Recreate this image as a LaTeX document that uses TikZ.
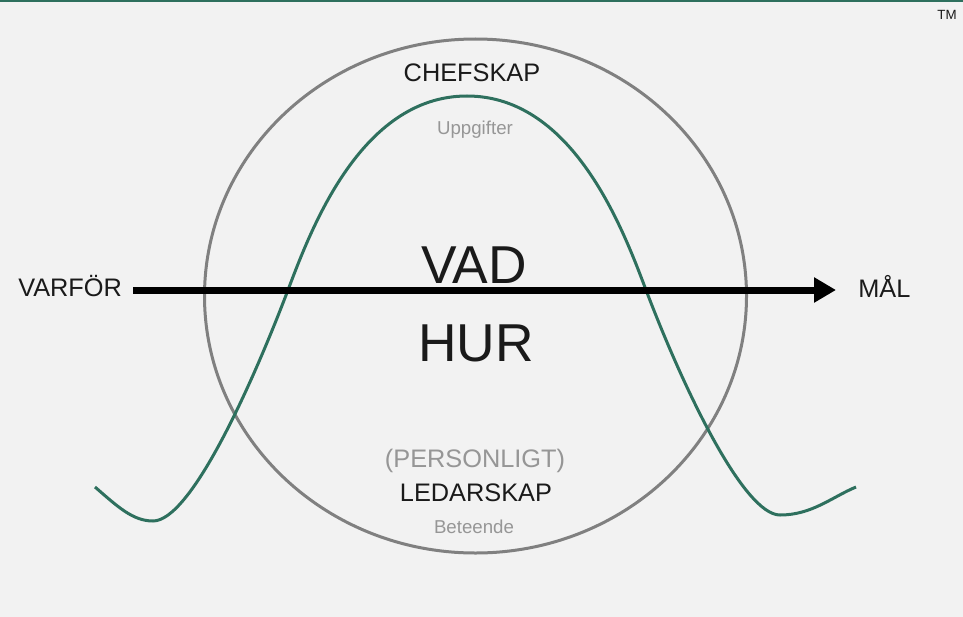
\documentclass[tikz,border=0pt]{standalone}
\usepackage{fontspec}
\setmainfont{Liberation Sans}
\usetikzlibrary{arrows.meta}

\definecolor{bggray}{RGB}{242,242,242}
\definecolor{curvegreen}{RGB}{46,112,94}
\definecolor{ringgray}{RGB}{128,128,128}
\definecolor{softgray}{RGB}{150,150,150}
\definecolor{inkblack}{RGB}{26,26,26}

\begin{document}
\begin{tikzpicture}[x=0.75pt,y=0.75pt,yscale=-1,xscale=1,
  bigtext/.style={anchor=base,inner sep=0pt,text=inkblack,font=\fontsize{19}{22}\selectfont},
  smalltext/.style={anchor=base,inner sep=0pt,text=softgray,font=\fontsize{14}{16}\selectfont},
  hugetext/.style={anchor=base,inner sep=0pt,text=inkblack,font=\fontsize{40}{46}\selectfont}]
%set diagram: 963 x 617
\useasboundingbox (0,0) rectangle (963,617);
\fill [bggray] (0,0) rectangle (963,617);

%Straight Lines [top border]
\draw [color=curvegreen, line width=1.5] (0,1) -- (963,1) ;

%Shape: Ellipse
\draw [color=ringgray, line width=2.25] (475.5,296) ellipse (271 and 257) ;

%Curve Lines
\draw [color=curvegreen, line width=2.25] (95,487) .. controls (118,507) and (133,521) .. (153,521) .. controls (190,521) and (250,390) .. (288,290) .. controls (310,232) and (360,96) .. (467,96) .. controls (574,96) and (624,232) .. (646,290) .. controls (684,390) and (744,515) .. (780,515) .. controls (812,515) and (832,497) .. (856,487) ;

% Text Node
\draw (18,296) node [bigtext, anchor=base west] (varfor) {VARFÖR};
% Text Node
\draw (858,297) node [bigtext, anchor=base west] (mal) {MÅL};

\coordinate (arrowstart) at (133,290);
\coordinate (arrowend) at (836,290);
%Straight Lines [arrow]
\draw [line width=5.25, -{Triangle[length=16.5pt,width=18pt]}] (arrowstart) -- (arrowend) ;

% Text Node
\draw (472,82) node [bigtext] (chefskap) {CHEFSKAP};
% Text Node
\draw (475,134) node [smalltext] (uppgifter) {Uppgifter};
% Text Node
\draw (474,283) node [hugetext] (vad) {VAD};
% Text Node
\draw (476,361) node [hugetext] (hur) {HUR};
% Text Node
\draw (475,467) node [bigtext, text=softgray] (personligt) {(PERSONLIGT)};
% Text Node
\draw (476,501) node [bigtext] (ledarskap) {LEDARSKAP};
% Text Node
\draw (474,533) node [smalltext] (beteende) {Beteende};
% Text Node
\draw (947,20) node [anchor=base, inner sep=0pt, text=inkblack, font=\fontsize{10}{12}\selectfont] (tm) {TM};

\end{tikzpicture}
\end{document}
